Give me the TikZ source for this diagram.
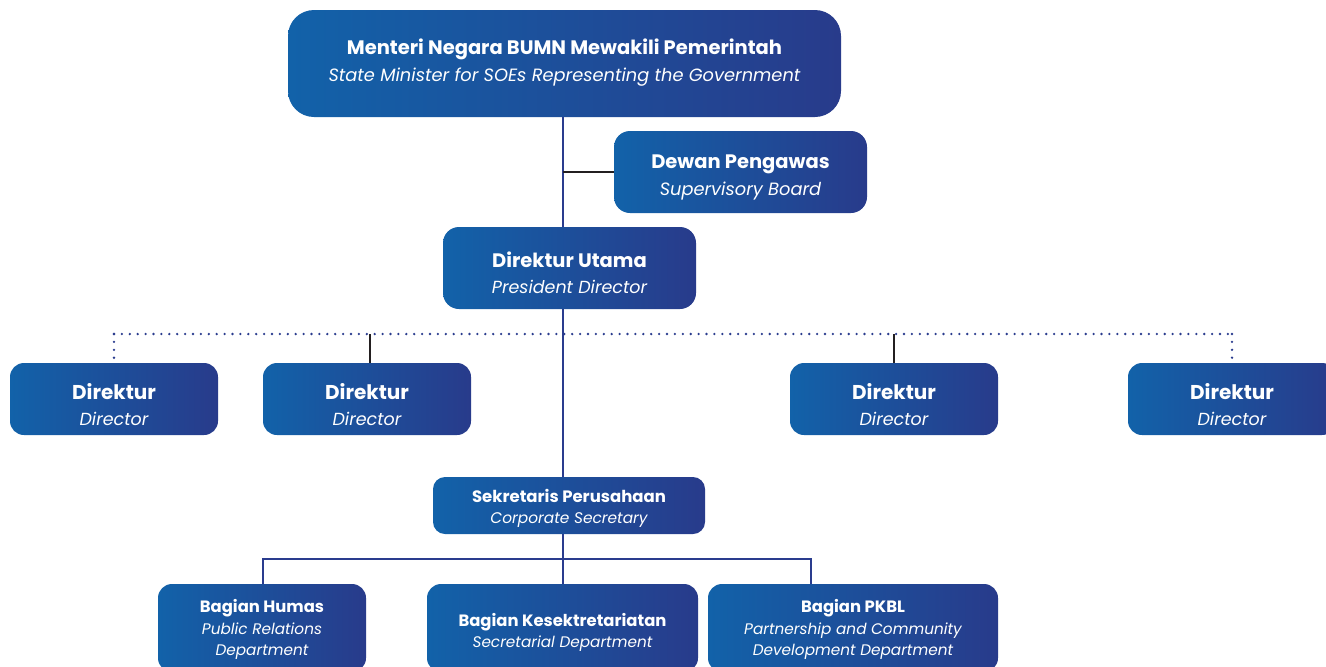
\documentclass[tikz,border=0pt]{standalone}
\usepackage{fontspec}
\setmainfont{Poppins}
\usetikzlibrary{backgrounds}
\definecolor{boxL}{HTML}{1262A9}
\definecolor{boxR}{HTML}{283B8B}
\definecolor{linkblue}{HTML}{2A3C8E}
\definecolor{linkdark}{HTML}{231F20}
\tikzset{
  orgbox/.style={rounded corners=#1, left color=boxL, right color=boxR,
    draw=none, inner sep=0pt, anchor=center},
  orgbox/.default=14pt,
  boxlabel/.style={text=white, align=center, inner sep=0pt},
  lead/.style 2 args={font=\fontsize{#1}{#2}\selectfont},
  bluelink/.style={draw=linkblue, line width=2pt},
  darklink/.style={draw=linkdark, line width=2pt},
  dotlink/.style={draw=linkblue, line width=2.6pt, line cap=round,
    dash pattern=on 0pt off 7.9pt},
}
% bold heading and italic subheading; the label's font sets the line pitch
\newcommand{\ttl}[2]{{\fontsize{#1}{1}\selectfont\bfseries #2}}
\newcommand{\sub}[2]{{\fontsize{#1}{1}\selectfont\itshape #2}}
\begin{document}
\begin{tikzpicture}[x=1pt,y=-1pt]
\useasboundingbox (0,0) rectangle (1326,667);
\clip (0,0) rectangle (1326,667);

% --- boxes, each with its two-language caption
\node[orgbox=26pt, minimum width=553pt, minimum height=107pt,
  label={[boxlabel, lead={17.8}{27}, yshift=1pt]center:{\ttl{19.5}{Menteri Negara BUMN Mewakili Pemerintah}\\\sub{17.8}{State Minister for SOEs Representing the Government}}}]
  (gov) at (564.5,63.5) {};
\node[orgbox=16pt, minimum width=253pt, minimum height=82pt,
  label={[boxlabel, lead={17.5}{27}, yshift=-5.5pt]center:{\ttl{19.5}{Dewan Pengawas}\\\sub{17.8}{Supervisory Board}}}]
  (board) at (740.5,172) {};
\node[orgbox=16pt, minimum width=253pt, minimum height=82pt,
  label={[boxlabel, lead={17.5}{26}, yshift=-4.5pt]center:{\ttl{19.5}{Direktur Utama}\\\sub{17.5}{President Director}}}]
  (pd) at (569.5,268) {};

\node[orgbox, minimum width=208pt, minimum height=72pt,
  label={[boxlabel, lead={17.5}{26}, yshift=-5.5pt]center:{\ttl{20}{Direktur}\\\sub{17.5}{Director}}}]
  (d1) at (114,399) {};
\node[orgbox, minimum width=208pt, minimum height=72pt,
  label={[boxlabel, lead={17.5}{26}, yshift=-5.5pt]center:{\ttl{20}{Direktur}\\\sub{17.5}{Director}}}]
  (d2) at (367,399) {};
\node[orgbox, minimum width=208pt, minimum height=72pt,
  label={[boxlabel, lead={17.5}{26}, yshift=-5.5pt]center:{\ttl{20}{Direktur}\\\sub{17.5}{Director}}}]
  (d3) at (894,399) {};
\node[orgbox, minimum width=208pt, minimum height=72pt,
  label={[boxlabel, lead={17.5}{26}, yshift=-5.5pt]center:{\ttl{20}{Direktur}\\\sub{17.5}{Director}}}]
  (d4) at (1232,399) {};

\node[orgbox=12pt, minimum width=272pt, minimum height=57pt,
  label={[boxlabel, lead={15.4}{21}, yshift=-2.5pt]center:{\ttl{16.5}{Sekretaris Perusahaan}\\\sub{15.4}{Corporate Secretary}}}]
  (sec) at (569,505.5) {};

\node[orgbox, minimum width=208pt, minimum height=88pt,
  label={[boxlabel, lead={15.3}{21.5}, yshift=-1.5pt]center:{\ttl{16.4}{Bagian Humas}\\\sub{15.3}{Public Relations}\\\sub{15.3}{Department}}}]
  (pr) at (262,628) {};
\node[orgbox, minimum width=271pt, minimum height=88pt,
  label={[boxlabel, lead={15.3}{21}, yshift=-4pt]center:{\ttl{16.4}{Bagian Kesektretariatan}\\\sub{15.3}{Secretarial Department}}}]
  (sd) at (562.5,628) {};
\node[orgbox, minimum width=290pt, minimum height=88pt,
  label={[boxlabel, lead={15.3}{21.5}, yshift=-1.5pt]center:{\ttl{16.4}{Bagian PKBL}\\\sub{15.3}{Partnership and Community}\\\sub{15.3}{Development Department}}}]
  (pkbl) at (853,628) {};

% --- junction points
\coordinate (spine) at (563,0);
\coordinate (dirbus) at (0,334);
\coordinate (deptbus) at (0,559);
\coordinate (d2tap) at (370,0);
\coordinate (prtap) at (263,0);
\coordinate (pktap) at (811,0);

% --- connectors, behind the boxes
\begin{scope}[on background layer]
  \draw[bluelink] (gov.south -| spine) -- (sec.north -| spine);
  \draw[darklink] (board.west -| spine) -- (board.west);
  % director bus
  \draw[dotlink] (d1.north |- dirbus) -- (d4.north |- dirbus);
  \draw[dotlink] (d1.north |- dirbus) -- (d1.north);
  \draw[dotlink] (d4.north |- dirbus) -- (d4.north);
  \draw[darklink] (d2tap |- dirbus) -- (d2tap |- d2.north);
  \draw[darklink] (d3.north |- dirbus) -- (d3.north);
  % department bus
  \draw[bluelink] (sec.south -| spine) -- (sd.north -| spine);
  \draw[bluelink] (prtap |- pr.north) |- (deptbus -| spine) -| (pktap |- pkbl.north);
\end{scope}
\end{tikzpicture}
\end{document}
